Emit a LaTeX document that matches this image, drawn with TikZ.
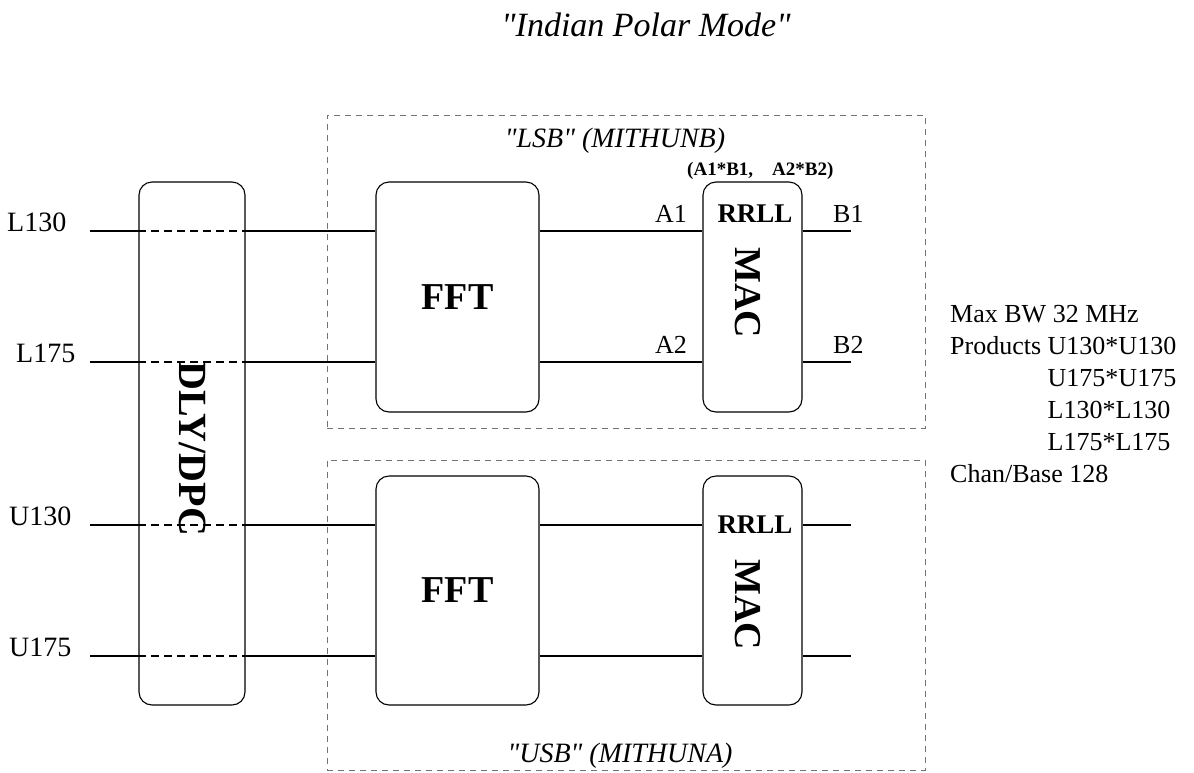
\documentclass[tikz,border=0pt]{standalone}
\usepackage{fontspec}
\setmainfont{Liberation Serif}
\usepackage{tikz}
\usetikzlibrary{positioning}

\begin{document}
\begin{tikzpicture}[
    x=1pt, y=-1pt,
    blk/.style={draw, rounded corners=13pt, line width=1.1pt, inner sep=0pt},
    grp/.style={draw=black!55, line width=1pt, dash pattern=on 6pt off 5pt, minimum width=598pt},
    wire/.style={line width=1.1pt},
    thru/.style={wire, dash pattern=on 8pt off 5pt},
    big/.style={font=\fontsize{38}{44}\selectfont\bfseries, inner sep=0pt},
    lbl/.style={font=\fontsize{28}{34}\selectfont, inner sep=0pt},
    pin/.style={font=\fontsize{26}{32}\selectfont, inner sep=0pt},
    grplbl/.style={font=\fontsize{28}{34}\selectfont\itshape, inner sep=0pt}
  ]
    \useasboundingbox (0,0) rectangle (1194,772);
    \node[font=\fontsize{34}{40}\selectfont\itshape, inner sep=0pt, anchor=base] (title) at (646,36) {\textquotedbl Indian Polar Mode\textquotedbl};
    % sideband groups
    \node[grp, minimum height=313pt] (lsb) at (626,271.5) {};
    \node[grp, minimum height=310pt] (usb) at (626,615) {};
    \node[grplbl, anchor=base] (lsbtxt) at (615,147) {\textquotedbl LSB\textquotedbl{} (MITHUNB)};
    \node[grplbl, anchor=base] (usbtxt) at (620,762) {\textquotedbl USB\textquotedbl{} (MITHUNA)};
    % blocks
    \node[blk, minimum width=106pt, minimum height=523pt] (dly) at (192,443.5) {};
    \node[big, rotate=-90, font=\fontsize{40}{44}\selectfont\bfseries] (dlytxt) at (193,449) {DLY/DPC};
    \node[blk, big, minimum width=163pt, minimum height=230pt] (fft1) at (457.5,297) {FFT};
    \node[blk, big, minimum width=163pt, minimum height=229pt] (fft2) at (457.5,590.5) {FFT};
    \node[blk, minimum width=99pt, minimum height=230pt] (mac1) at (752.5,297) {};
    \node[blk, minimum width=99pt, minimum height=229pt] (mac2) at (752.5,590.5) {};
    \node[big, rotate=-90] (mac1txt) at (748,293) {MAC};
    \node[big, rotate=-90] (mac2txt) at (748,605) {MAC};
    \node[inner sep=0pt, font=\fontsize{27}{32}\selectfont\bfseries, anchor=base] (rr1) at (755,222) {RRLL};
    \node[inner sep=0pt, font=\fontsize{27}{32}\selectfont\bfseries, anchor=base] (rr2) at (755,533) {RRLL};
    \node[inner sep=0pt, font=\fontsize{19}{23}\selectfont\bfseries, anchor=base west] (prod) at (687,175) {(A1*B1,\hspace{19pt}A2*B2)};
    % inputs
    \node[lbl, anchor=base west] (l130) at (7,231) {L130};
    \node[lbl, anchor=base west] (l175) at (16,362) {L175};
    \node[lbl, anchor=base west] (u130) at (9,525) {U130};
    \node[lbl, anchor=base west] (u175) at (9,656) {U175};
    \coordinate (in1) at (90,231);
    \coordinate (in2) at (90,362);
    \coordinate (in3) at (90,525);
    \coordinate (in4) at (90,656);
    \coordinate (out1) at (851,231);
    \coordinate (out2) at (851,362);
    \coordinate (out3) at (851,525);
    \coordinate (out4) at (851,656);
    \draw[wire] (in1) -- (dly.west |- in1) (dly.east |- in1) -- (fft1.west |- in1) (fft1.east |- in1) -- (mac1.west |- in1) (mac1.east |- in1) -- (out1);
    \draw[wire] (in2) -- (dly.west |- in2) (dly.east |- in2) -- (fft1.west |- in2) (fft1.east |- in2) -- (mac1.west |- in2) (mac1.east |- in2) -- (out2);
    \draw[wire] (in3) -- (dly.west |- in3) (dly.east |- in3) -- (fft2.west |- in3) (fft2.east |- in3) -- (mac2.west |- in3) (mac2.east |- in3) -- (out3);
    \draw[wire] (in4) -- (dly.west |- in4) (dly.east |- in4) -- (fft2.west |- in4) (fft2.east |- in4) -- (mac2.west |- in4) (mac2.east |- in4) -- (out4);
    \draw[thru] (dly.west |- in1) -- (dly.east |- in1);
    \draw[thru] (dly.west |- in2) -- (dly.east |- in2);
    \draw[thru] (dly.west |- in3) -- (dly.east |- in3);
    \draw[thru] (dly.west |- in4) -- (dly.east |- in4);
    % pin names
    \node[pin, anchor=base east] (a1) at (687,222) {A1};
    \node[pin, anchor=base east] (a2) at (687,353) {A2};
    \node[pin, anchor=base west] (b1) at (833,222) {B1};
    \node[pin, anchor=base west] (b2) at (833,353) {B2};
    % settings
    \node[pin, anchor=base west] (info) at (950,322) {%
      \begin{tabular}[t]{@{}l@{\ }l@{}}
        \multicolumn{2}{@{}l@{}}{Max BW 32 MHz}\\
        Products & U130*U130\\
                 & U175*U175\\
                 & L130*L130\\
                 & L175*L175\\
        \multicolumn{2}{@{}l@{}}{Chan/Base 128}
      \end{tabular}};
  \end{tikzpicture}
\end{document}
